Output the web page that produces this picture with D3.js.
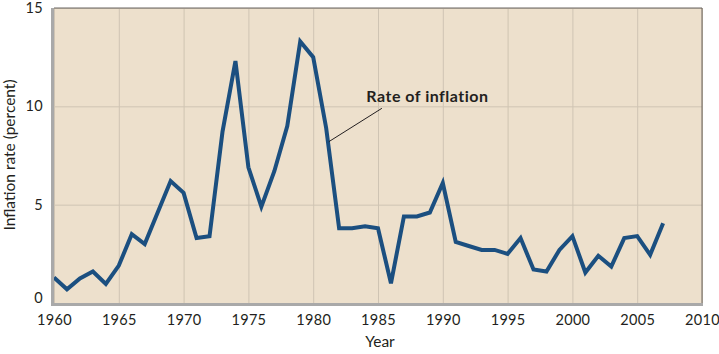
<!DOCTYPE html>
<html>
<head>
<meta charset="utf-8">
<script src="https://cdn.jsdelivr.net/npm/d3@7"></script>
<style>
  body { margin: 0; background: #fff; }
  svg text { font-family: Lato, "Open Sans", sans-serif; fill: #231f20; }
</style>
</head>
<body>
<svg id="chart"></svg>
<script>
const years = d3.range(1960, 2008);
const inflation = [
  1.3, 0.7, 1.25, 1.6, 0.97, 1.9, 3.5, 3.0, 4.6, 6.2,
  5.6, 3.3, 3.4, 8.7, 12.3, 6.9, 4.9, 6.7, 9.0, 13.3,
  12.5, 8.9, 3.8, 3.8, 3.9, 3.8, 1.0, 4.4, 4.4, 4.6,
  6.1, 3.1, 2.9, 2.7, 2.7, 2.5, 3.3, 1.7, 1.6, 2.7,
  3.4, 1.55, 2.4, 1.85, 3.3, 3.4, 2.45, 4.05
];
const xTicks = [1960, 1965, 1970, 1975, 1980, 1985, 1990, 1995, 2000, 2005, 2010];
const yTicks = [0, 5, 10, 15];
const labelText = "Rate of inflation";

const width = 719, height = 354;
const margin = {top: 8, right: 17, bottom: 51, left: 54};
const innerW = width - margin.left - margin.right;
const innerH = height - margin.top - margin.bottom;

const svg = d3.select("#chart").attr("width", width).attr("height", height);
const chart = svg.append("g").attr("transform", `translate(${margin.left},${margin.top})`);

const x = d3.scaleLinear().domain([1960, 2010]).range([0, innerW]);
const y = d3.scaleLinear().domain([0, 15]).range([innerH, 0]);

// plot background
chart.append("rect")
  .attr("width", innerW).attr("height", innerH)
  .attr("fill", "#ede0cc");

// grid
chart.append("g")
  .call(d3.axisBottom(x).tickValues(xTicks).tickSize(innerH).tickFormat(""))
  .call(g => g.select(".domain").remove())
  .call(g => g.selectAll("line").attr("stroke", "#cfc4b3").attr("stroke-width", 1));
chart.append("g")
  .call(d3.axisLeft(y).tickValues(yTicks).tickSize(-innerW).tickFormat(""))
  .call(g => g.select(".domain").remove())
  .call(g => g.selectAll("line").attr("stroke", "#cfc4b3").attr("stroke-width", 1));

// border: thin dark top and right, thick gray left and bottom
chart.append("line").attr("x1", 0).attr("x2", innerW).attr("y1", 0).attr("y2", 0)
  .attr("stroke", "#6b6560").attr("stroke-width", 1);
chart.append("line").attr("x1", innerW).attr("x2", innerW).attr("y1", 0).attr("y2", innerH)
  .attr("stroke", "#6b6560").attr("stroke-width", 1);

// line
chart.append("path")
  .datum(years.map((yr, i) => [yr, inflation[i]]))
  .attr("fill", "none")
  .attr("stroke", "#1b4f80")
  .attr("stroke-width", 4)
  .attr("stroke-linejoin", "miter")
  .attr("d", d3.line().x(d => x(d[0])).y(d => y(d[1])));

chart.append("line").attr("x1", 0).attr("x2", innerW + 1).attr("y1", innerH + 1.5).attr("y2", innerH + 1.5)
  .attr("stroke", "#a9a9a9").attr("stroke-width", 3);
chart.append("line").attr("x1", -1.5).attr("x2", -1.5).attr("y1", 0).attr("y2", innerH + 3)
  .attr("stroke", "#a9a9a9").attr("stroke-width", 3);

// axes labels
const xAxis = chart.append("g")
  .attr("transform", `translate(0,${innerH + 3})`)
  .call(d3.axisBottom(x).tickValues(xTicks).tickFormat(d3.format("d")).tickSize(0).tickPadding(9));
xAxis.select(".domain").remove();
xAxis.selectAll("text").attr("font-size", "14.5px").attr("letter-spacing", "0.3px");

const yAxis = chart.append("g")
  .attr("transform", "translate(-3,0)")
  .call(d3.axisLeft(y).tickValues(yTicks).tickSize(0).tickPadding(8));
yAxis.select(".domain").remove();
yAxis.selectAll("text").attr("font-size", "14.5px").attr("letter-spacing", "0.3px");
yAxis.selectAll("text").filter(d => d === 0).attr("dy", "-0.05em");

svg.append("text")
  .attr("x", margin.left + x(1985) + 2)
  .attr("y", 347)
  .attr("text-anchor", "middle")
  .attr("font-size", "15.5px")
  .text("Year");

svg.append("text")
  .attr("transform", `translate(15,${155}) rotate(-90)`)
  .attr("text-anchor", "middle")
  .attr("font-size", "15.5px")
  .text("Inflation rate (percent)");

// annotation
chart.append("line")
  .attr("x1", x(1981.2)).attr("y1", y(8.2))
  .attr("x2", x(1985.3)).attr("y2", y(9.9))
  .attr("stroke", "#231f20").attr("stroke-width", 1);
chart.append("text")
  .attr("x", x(1984.1))
  .attr("y", y(10.2))
  .attr("font-size", "16px")
  .attr("letter-spacing", "0.5px")
  .attr("font-weight", "bold")
  .text(labelText);
</script>
</body>
</html>
